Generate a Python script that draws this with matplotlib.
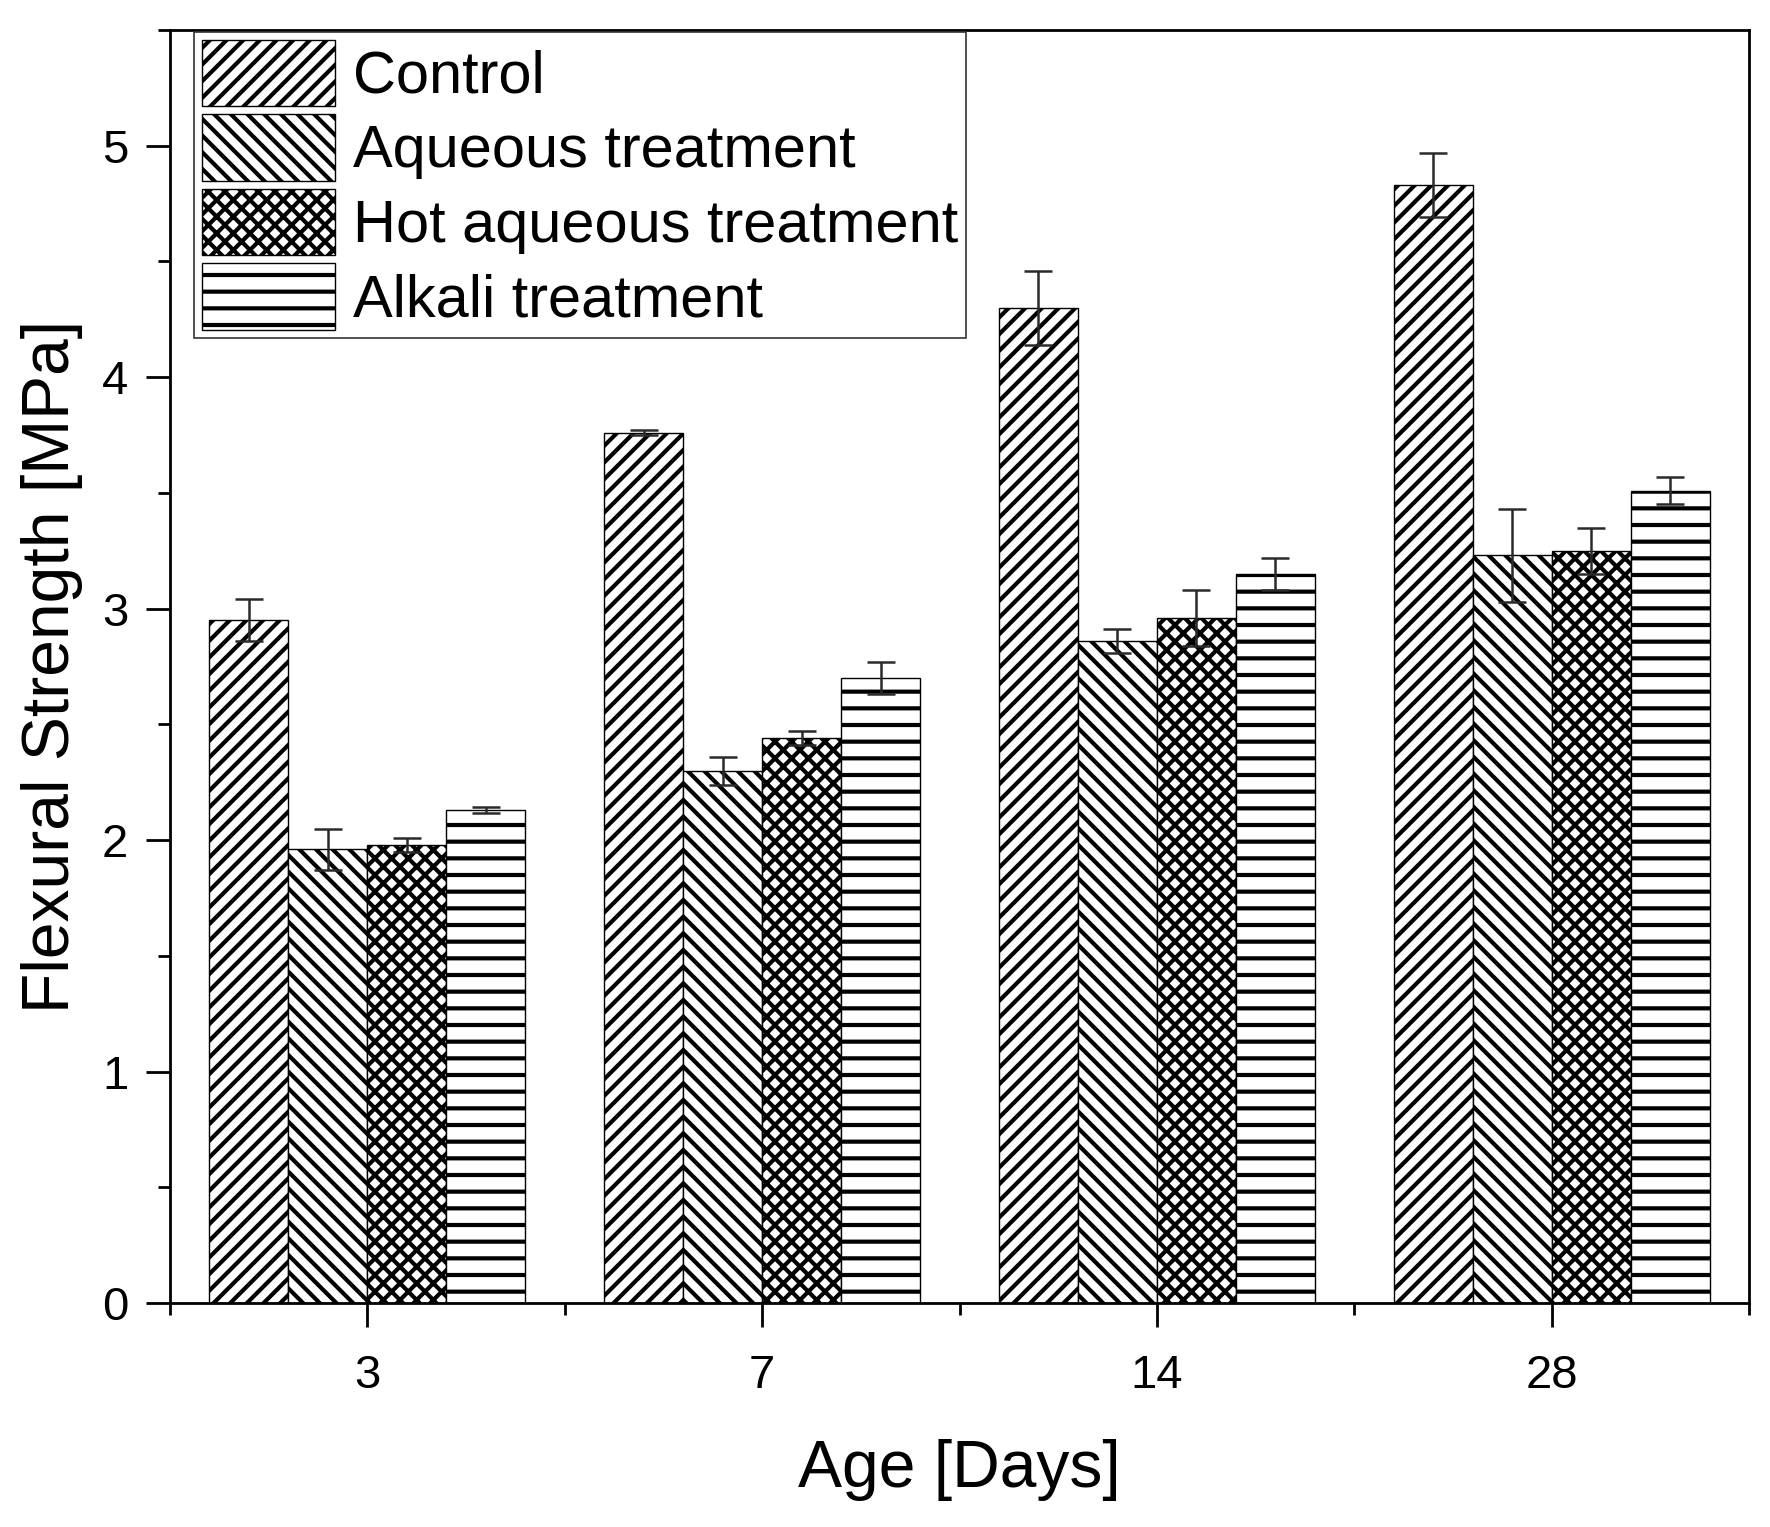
import matplotlib
matplotlib.use('Agg')
import matplotlib.pyplot as plt
import numpy as np
from matplotlib.ticker import MultipleLocator, FixedLocator

plt.rcParams['font.family'] = ['Liberation Sans', 'DejaVu Sans']
plt.rcParams['hatch.linewidth'] = 3.0

# ---- data ----
ages = ['3', '7', '14', '28']
series = ['Control', 'Aqueous treatment', 'Hot aqueous treatment', 'Alkali treatment']
control = [2.95, 3.76, 4.30, 4.83]
control_err = [0.09, 0.01, 0.16, 0.14]
aqueous = [1.96, 2.30, 2.86, 3.23]
aqueous_err = [0.09, 0.06, 0.05, 0.20]
hot = [1.98, 2.44, 2.96, 3.25]
hot_err = [0.03, 0.03, 0.12, 0.10]
alkali = [2.13, 2.70, 3.15, 3.51]
alkali_err = [0.015, 0.07, 0.07, 0.06]
hatches = ['//', '\\\\', 'xx', '-']

values = [control, aqueous, hot, alkali]
errors = [control_err, aqueous_err, hot_err, alkali_err]

fig = plt.figure(figsize=(17.7, 15.27), dpi=100)
ax = fig.add_axes([170 / 1770, 1 - 1303 / 1527, (1749 - 170) / 1770, (1303 - 30) / 1527])

x = np.arange(len(ages))
width = 0.2
for i, (vals, errs) in enumerate(zip(values, errors)):
    pos = x + (i - 1.5) * width
    ax.bar(pos, vals, width, color='white', edgecolor='black', hatch=hatches[i],
           linewidth=1.0, label=series[i], zorder=2)
    ax.errorbar(pos, vals, yerr=errs, fmt='none', ecolor='#2a2a2a', elinewidth=1.8,
                capsize=10, capthick=1.8, zorder=3)

ax.set_xlim(-0.5, 3.5)
ax.set_ylim(0, 5.5)
ax.set_xticks(x)
ax.set_xticklabels(ages)
ax.xaxis.set_minor_locator(FixedLocator([-0.5, 0.5, 1.5, 2.5, 3.5]))
ax.yaxis.set_major_locator(MultipleLocator(1))
ax.yaxis.set_minor_locator(MultipleLocator(0.5))
ax.tick_params(which='major', length=17, width=2, direction='out', labelsize=34)
ax.tick_params(which='minor', length=8.5, width=2, direction='out')
ax.tick_params(axis='x', pad=20)
ax.tick_params(axis='y', pad=13)
for s in ax.spines.values():
    s.set_linewidth(2)

ax.set_xlabel('Age [Days]', fontsize=47.5, labelpad=29)
ax.set_ylabel('Flexural Strength [MPa]', fontsize=47.5, labelpad=14)

leg = ax.legend(loc='upper left', bbox_to_anchor=(194 / 1770, 1 - 32 / 1527),
                bbox_transform=fig.transFigure, borderaxespad=0, fontsize=42.8,
                handlelength=2.24, handleheight=1.35, handletextpad=0.3,
                labelspacing=0.13, borderpad=0.13, fancybox=False, frameon=True,
                edgecolor='#333333', framealpha=1)
leg.get_frame().set_linewidth(1.2)

fig.savefig('out.png', dpi=100)
